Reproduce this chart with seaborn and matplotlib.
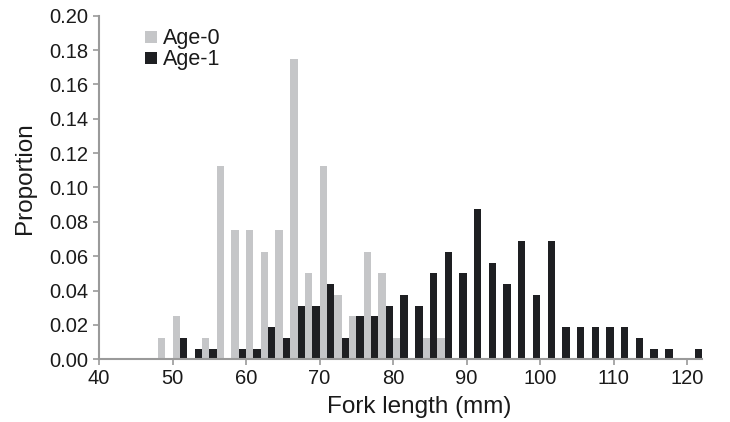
import matplotlib
matplotlib.use("Agg")
import matplotlib.pyplot as plt
from matplotlib.lines import Line2D
import seaborn as sns
import pandas as pd

# Fork-length bins (mm, bin start) and proportions per age class
bins = [48, 50, 52, 54, 56, 58, 60, 62, 64, 66, 68, 70, 72, 74, 76, 78, 80, 82,
        84, 86, 88, 90, 92, 94, 96, 98, 100, 102, 104, 106, 108, 110, 112, 114,
        116, 118, 120]
age0 = [0.0125, 0.025, 0.0, 0.0125, 0.1125, 0.075, 0.075, 0.0625, 0.075, 0.175,
        0.05, 0.1125, 0.0375, 0.025, 0.0625, 0.05, 0.0125, 0.0, 0.0125, 0.0125,
        0.0, 0.0, 0.0, 0.0, 0.0, 0.0, 0.0, 0.0, 0.0, 0.0, 0.0, 0.0, 0.0, 0.0,
        0.0, 0.0, 0.0]
age1 = [0.0, 0.0125, 0.00625, 0.00625, 0.0, 0.00625, 0.00625, 0.01875, 0.0125,
        0.03125, 0.03125, 0.04375, 0.0125, 0.025, 0.025, 0.03125, 0.0375, 0.03125,
        0.05, 0.0625, 0.05, 0.0875, 0.05625, 0.04375, 0.06875, 0.0375, 0.06875,
        0.01875, 0.01875, 0.01875, 0.01875, 0.01875, 0.0125, 0.00625, 0.00625,
        0.0, 0.00625]
series_names = ["Age-0", "Age-1"]
colors = ["#c5c6c8", "#1e1f22"]
xticks = [40, 50, 60, 70, 80, 90, 100, 110, 120]
yticks = [0.00, 0.02, 0.04, 0.06, 0.08, 0.10, 0.12, 0.14, 0.16, 0.18, 0.20]

df = pd.DataFrame({
    "center": [b + 1 for b in bins] * 2,
    "prop": age0 + age1,
    "age": [series_names[0]] * len(bins) + [series_names[1]] * len(bins),
})

sns.set_style("ticks")
plt.rcParams["font.family"] = ["Liberation Sans", "DejaVu Sans"]

fig = plt.figure(figsize=(7.3, 4.22), dpi=100)
ax = fig.add_axes([0.1356, 0.1486, 0.8260, 0.8142])

sns.barplot(data=df, x="center", y="prop", hue="age", hue_order=series_names,
            palette=colors, native_scale=True, width=1.0, gap=0,
            errorbar=None, linewidth=0, legend=False, ax=ax)

ax.set_xlim(40, 122)
ax.set_ylim(0, 0.2)
ax.set_xticks(xticks)
ax.set_xticklabels([str(t) for t in xticks])
ax.set_yticks(yticks)
ax.set_yticklabels([f"{t:.2f}" for t in yticks])

spine_col = "#9a9a9a"
for s in ["top", "right"]:
    ax.spines[s].set_visible(False)
for s in ["left", "bottom"]:
    ax.spines[s].set_color(spine_col)
    ax.spines[s].set_linewidth(1.5)
ax.tick_params(axis="both", colors=spine_col, length=4, width=1.2,
               labelcolor="#1a1a1a", labelsize=14.5, direction="out")
ax.tick_params(axis="y", pad=4)
ax.tick_params(axis="x", pad=3)

ax.set_xlabel("Fork length (mm)", fontsize=17.5, color="#1a1a1a", labelpad=6)
ax.set_ylabel("Proportion", fontsize=17.5, color="#1a1a1a", labelpad=9)
ax.xaxis.label.set_x(0.531)
ax.yaxis.label.set_y(0.528)

handles = [Line2D([], [], marker="s", linestyle="none", markersize=9,
                  markerfacecolor=c, markeredgewidth=0) for c in colors]
ax.legend(handles, series_names, loc="upper left", bbox_to_anchor=(0.052, 0.995),
          frameon=False, fontsize=15.5, handletextpad=0.1, labelspacing=0.0,
          borderpad=0, handlelength=0.9, labelcolor="#1a1a1a")

fig.savefig("out.png", dpi=100)
